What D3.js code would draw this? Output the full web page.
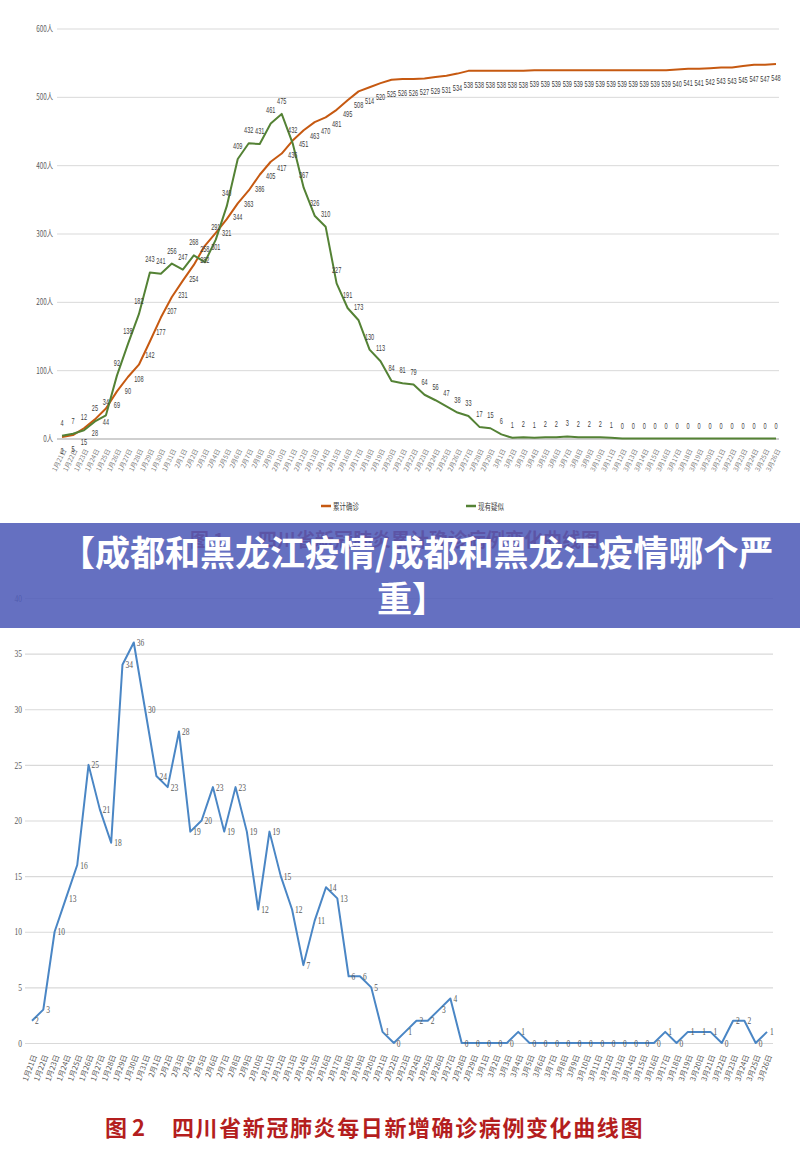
<!DOCTYPE html>
<html><head><meta charset="utf-8">
<script src="https://cdn.jsdelivr.net/npm/d3@7"></script>
<style>
html,body{margin:0;padding:0;background:#fff;}
svg{display:block;}
</style>
</head><body>
<svg id="chart" width="800" height="1153"></svg>
<script>
const dates = ["1月21日","1月22日","1月23日","1月24日","1月25日","1月26日","1月27日","1月28日","1月29日","1月30日","1月31日",
"2月1日","2月2日","2月3日","2月4日","2月5日","2月6日","2月7日","2月8日","2月9日","2月10日","2月11日","2月12日","2月13日","2月14日","2月15日","2月16日","2月17日","2月18日","2月19日","2月20日","2月21日","2月22日","2月23日","2月24日","2月25日","2月26日","2月27日","2月28日","2月29日",
"3月1日","3月2日","3月3日","3月4日","3月5日","3月6日","3月7日","3月8日","3月9日","3月10日","3月11日","3月12日","3月13日","3月14日","3月15日","3月16日","3月17日","3月18日","3月19日","3月20日","3月21日","3月22日","3月23日","3月24日","3月25日","3月26日"];

const cumulativeConfirmed = [2,5,15,28,44,69,90,108,142,177,207,231,254,282,301,321,344,363,386,405,417,436,451,463,470,481,495,508,514,520,525,526,526,527,529,531,534,538,538,538,538,538,538,539,539,539,539,539,539,539,539,539,539,539,539,539,540,541,541,542,543,543,545,547,547,548];
const currentSuspected = [4,7,12,25,34,92,138,182,243,241,256,247,268,258,291,340,409,432,431,461,475,432,367,326,310,227,191,173,130,113,84,81,79,64,56,47,38,33,17,15,6,1,2,1,2,2,3,2,2,2,1,0,0,0,0,0,0,0,0,0,0,0,0,0,0,0];
const dailyNew = [2,3,10,13,16,25,21,18,34,36,30,24,23,28,19,20,23,19,23,19,12,19,15,12,7,11,14,13,6,6,5,1,0,1,2,2,3,4,0,0,0,0,0,1,0,0,0,0,0,0,0,0,0,0,0,0,1,0,1,1,1,0,2,2,0,1];

const topTicks = [0,100,200,300,400,500,600];
const bottomTicks = [0,5,10,15,20,25,30,35,40];
const seriesNames = ["累计确诊","现有疑似"];
const title1 = ["图 1","四川省新冠肺炎累计确诊病例变化曲线图"];
const title2 = ["图 2","四川省新冠肺炎每日新增确诊病例变化曲线图"];
const bannerLines = ["【成都和黑龙江疫情/成都和黑龙江疫情哪个严","重】"];

const svg = d3.select("#chart");
svg.append("rect").attr("width",800).attr("height",1153).attr("fill","#fff");

const sans = "'Liberation Sans','DejaVu Sans',sans-serif";
const serif = "'Liberation Serif','DejaVu Serif',serif";
const cjk = "'Noto Sans CJK SC','Noto Sans',sans-serif";

/* ---------- TOP CHART ---------- */
const xT = d3.scalePoint().domain(dates).range([62, 776]);
const yT = d3.scaleLinear().domain([0,600]).range([438.5, 28.5]);

const gyT = svg.append("g").attr("transform","translate(57,0)")
  .call(d3.axisLeft(yT).tickValues(topTicks).tickSize(-722).tickPadding(4).tickFormat(d=>d+"人"));
gyT.select(".domain").remove();
gyT.selectAll(".tick line").attr("stroke",d=>d===0?"#bfbfbf":"#d9d9d9").attr("stroke-width",d=>d===0?1.3:1);
gyT.selectAll(".tick text").attr("x",0).attr("transform","translate(-4,0) scale(0.7,1)")
  .attr("fill","#595959").style("font-family",cjk).style("font-size","9px");

const gxT = svg.append("g").attr("transform",`translate(0,${yT(0)})`)
  .call(d3.axisBottom(xT).tickSize(0).tickPadding(0));
gxT.select(".domain").remove();
gxT.selectAll(".tick text").attr("y",0).attr("dy","0.35em").attr("text-anchor","end")
  .attr("transform","translate(2,11) rotate(-64)")
  .attr("fill","#7f7f7f").style("font-family",cjk).style("font-size","6.5px");

const lineT = (arr)=> d3.line().x((d,i)=>xT(dates[i])).y(d=>yT(d))(arr);
svg.append("path").attr("d",lineT(cumulativeConfirmed)).attr("fill","none").attr("stroke","#c65911").attr("stroke-width",2).attr("stroke-linejoin","round");
svg.append("path").attr("d",lineT(currentSuspected)).attr("fill","none").attr("stroke","#548235").attr("stroke-width",2).attr("stroke-linejoin","round");

svg.append("g").selectAll("text").data(cumulativeConfirmed).join("text")
  .attr("transform",(d,i)=>`translate(${xT(dates[i])},${yT(d)+17}) scale(0.62,1)`)
  .attr("text-anchor","middle").attr("fill","#404040")
  .style("font-family",sans).style("font-size","9px").text(d=>d);
svg.append("g").selectAll("text").data(currentSuspected).join("text")
  .attr("transform",(d,i)=>`translate(${xT(dates[i])},${yT(d)-10}) scale(0.62,1)`)
  .attr("text-anchor","middle").attr("fill","#404040")
  .style("font-family",sans).style("font-size","9px").text(d=>d);

// legend
const legColors = ["#c65911","#548235"];
const legX = [321, 466];
seriesNames.forEach((n,k)=>{
  svg.append("line").attr("x1",legX[k]).attr("x2",legX[k]+10).attr("y1",506).attr("y2",506).attr("stroke",legColors[k]).attr("stroke-width",2.5);
  svg.append("text").attr("transform",`translate(${legX[k]+12},509.5) scale(0.72,1)`).attr("fill","#404040")
    .style("font-family",cjk).style("font-size","9px").text(n);
});

// title 1 (partly under banner)
svg.append("text").attr("x",190).attr("y",547).attr("fill","#b41e1e").style("font-family",cjk).style("font-weight","700").style("font-size","19px").text(title1[0]);
svg.append("text").attr("x",258).attr("y",547).attr("fill","#b41e1e").style("font-family",cjk).style("font-weight","700").style("font-size","19px").text(title1[1]);

/* ---------- BOTTOM CHART ---------- */
const xB = d3.scalePoint().domain(dates).range([32, 767]);
const yB = d3.scaleLinear().domain([0,40]).range([1043, 598]);

const gyB = svg.append("g").attr("transform","translate(25,0)")
  .call(d3.axisLeft(yB).tickValues(bottomTicks).tickSize(-748).tickPadding(3));
gyB.select(".domain").remove();
gyB.selectAll(".tick line").attr("stroke","#d9d9d9").attr("stroke-width",1.2);
gyB.selectAll(".tick text").attr("x",0).attr("transform","translate(-3,0) scale(0.75,1)")
  .attr("fill","#595959").style("font-family",serif).style("font-size","10px");

const gxB = svg.append("g").attr("transform",`translate(0,${yB(0)})`)
  .call(d3.axisBottom(xB).tickSize(0).tickPadding(0));
gxB.select(".domain").remove();
gxB.selectAll(".tick text").attr("y",0).attr("dy","0.35em").attr("text-anchor","end")
  .attr("transform","translate(2,12) rotate(-70)")
  .attr("fill","#595959").style("font-family",cjk).style("font-size","7.5px");

svg.append("path").attr("d",d3.line().x((d,i)=>xB(dates[i])).y(d=>yB(d))(dailyNew))
  .attr("fill","none").attr("stroke","#4a86c5").attr("stroke-width",2).attr("stroke-linejoin","round");

svg.append("g").selectAll("text").data(dailyNew).join("text")
  .attr("transform",(d,i)=>`translate(${xB(dates[i])+3},${yB(d)+3.5}) scale(0.75,1)`)
  .attr("fill","#595959").style("font-family",serif).style("font-size","10px").text(d=>d);

// title 2
svg.append("text").attr("x",105).attr("y",1136).attr("fill","#b41e1e").style("font-family",cjk).style("font-weight","700").style("font-size","22px").text(title2[0]);
svg.append("text").attr("x",172).attr("y",1136).attr("fill","#b41e1e").style("font-family",cjk).style("font-weight","700").style("font-size","22px").style("letter-spacing","1.6px").text(title2[1]);

/* ---------- BANNER ---------- */
svg.append("rect").attr("x",0).attr("y",523).attr("width",800).attr("height",105).attr("fill","rgb(80,92,184)").attr("opacity",0.88);
svg.append("text").attr("x",60).attr("y",566).attr("fill","#fff").style("font-family",cjk).style("font-weight","700").style("font-size","35px").text(bannerLines[0]);
svg.append("text").attr("x",377).attr("y",612).attr("fill","#fff").style("font-family",cjk).style("font-weight","700").style("font-size","35px").text(bannerLines[1]);
</script>
</body></html>
